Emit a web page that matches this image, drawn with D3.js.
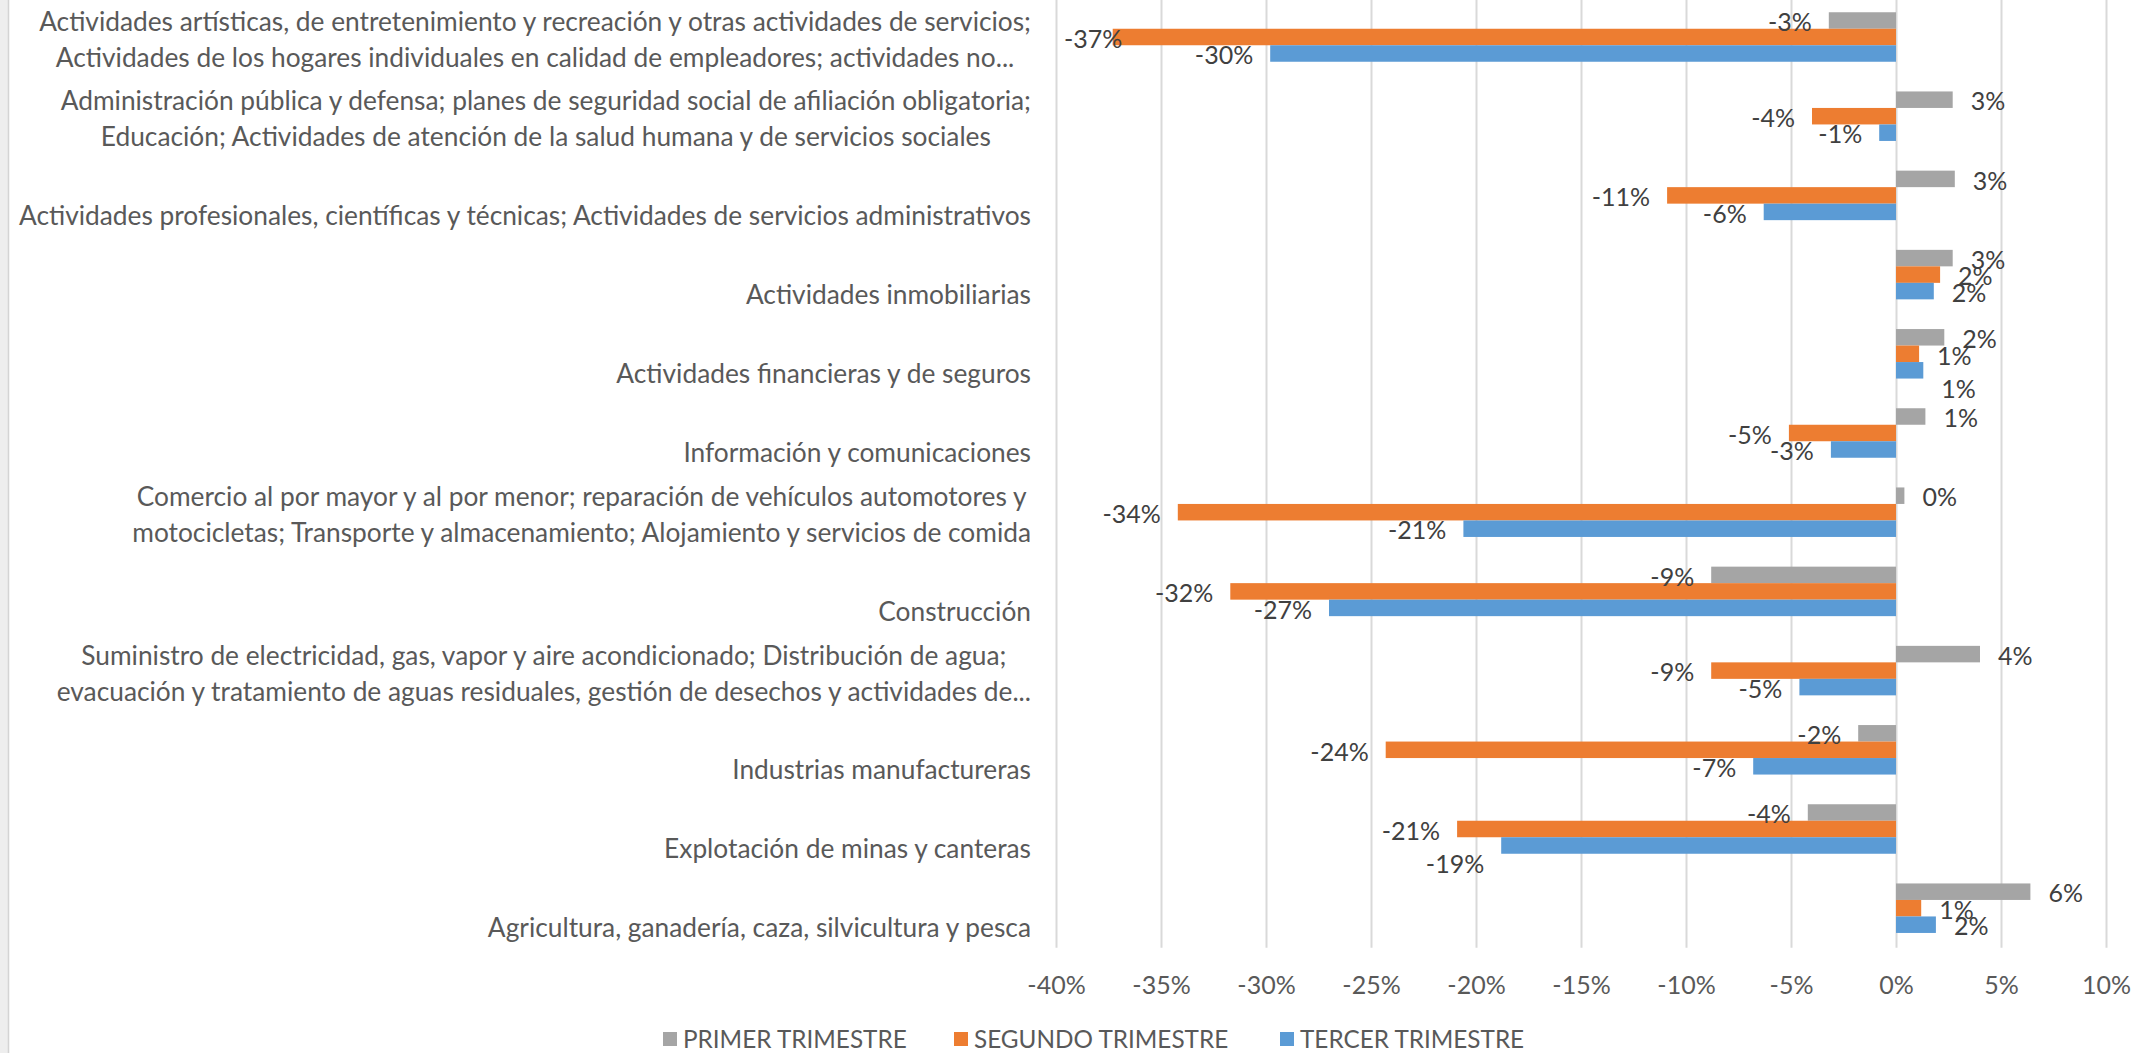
<!DOCTYPE html>
<html>
<head>
<meta charset="utf-8">
<script src="https://cdn.jsdelivr.net/npm/d3@7"></script>
<style>
  body { margin: 0; background: #fff; }
  svg text { font-family: Lato, "Open Sans", sans-serif; }
</style>
</head>
<body>
<svg id="chart" width="2147" height="1053"></svg>
<script>
// categories from top to bottom, each one split in the lines it is shown with
var categories = [
  ["Actividades artísticas, de entretenimiento y recreación y otras actividades de servicios;",
   "Actividades de los hogares individuales en calidad de empleadores; actividades no..."],
  ["Administración pública y defensa; planes de seguridad social de afiliación obligatoria;",
   "Educación; Actividades de atención de la salud humana y de servicios sociales"],
  ["Actividades profesionales, científicas y técnicas; Actividades de servicios administrativos"],
  ["Actividades inmobiliarias"],
  ["Actividades financieras y de seguros"],
  ["Información y comunicaciones"],
  ["Comercio al por mayor y al por menor; reparación de vehículos automotores y",
   "motocicletas; Transporte y almacenamiento; Alojamiento y servicios de comida"],
  ["Construcción"],
  ["Suministro de electricidad, gas, vapor y aire acondicionado; Distribución de agua;",
   "evacuación y tratamiento de aguas residuales, gestión de desechos y actividades de..."],
  ["Industrias manufactureras"],
  ["Explotación de minas y canteras"],
  ["Agricultura, ganadería, caza, silvicultura y pesca"]
];

var seriesNames = ["PRIMER TRIMESTRE", "SEGUNDO TRIMESTRE", "TERCER TRIMESTRE"];
var seriesColors = ["#a5a5a5", "#ed7d31", "#5b9bd5"];

// variation in %, same order as categories
var primer  = [-3.2, 2.7, 2.8, 2.7, 2.3, 1.4, 0.4, -8.8, 4.0, -1.8, -4.2, 6.4];
var segundo = [-37.3, -4.0, -10.9, 2.1, 1.1, -5.1, -34.2, -31.7, -8.8, -24.3, -20.9, 1.2];
var tercero = [-29.8, -0.8, -6.3, 1.8, 1.3, -3.1, -20.6, -27.0, -4.6, -6.8, -18.8, 1.9];

var tickValues = [-40, -35, -30, -25, -20, -15, -10, -5, 0, 5, 10];

var allSeries = [primer, segundo, tercero];

// labels that excel pushed down to keep them apart ("category-series")
var labelNudge = { "4-2": 17, "10-2": 17 };

var svg = d3.select("#chart");
var plot = { left: 1056, right: 2106, top: -2.6, bottom: 947.8 };

// light strip on the far left, like the sheet behind the chart
svg.append("rect").attr("x", 0).attr("y", 0).attr("width", 8).attr("height", 1053).attr("fill", "#eeeeee");
svg.append("line").attr("x1", 8.5).attr("x2", 8.5).attr("y1", 0).attr("y2", 1053)
  .style("stroke", "#d4d4d4").style("stroke-width", 1.5);

var x = d3.scaleLinear().domain([-40, 10]).range([plot.left, plot.right]);
var y = d3.scaleBand()
  .domain(d3.range(categories.length))
  .range([plot.top, plot.bottom])
  .paddingInner(0.375)
  .paddingOuter(0.1875);
var ySub = d3.scaleBand().domain(d3.range(seriesNames.length)).range([0, y.bandwidth()]);

// gridlines
var grid = svg.append("g")
  .attr("transform", "translate(0," + plot.bottom + ")")
  .call(d3.axisBottom(x).tickValues(tickValues).tickSize(-(plot.bottom - plot.top)).tickFormat(""));
grid.select(".domain").remove();
grid.selectAll("line").style("stroke", "#d9d9d9").style("stroke-width", 2);

// tick labels
var axis = svg.append("g")
  .attr("transform", "translate(0,973)")
  .call(d3.axisBottom(x).tickValues(tickValues).tickSize(0).tickFormat(function (d) { return d + "%"; }));
axis.select(".domain").remove();
axis.selectAll("text").style("font-size", "25px").style("fill", "#595959")
  .style("font-family", "Lato, sans-serif");

// bars
var rows = categories.map(function (c, i) {
  return { i: i, values: allSeries.map(function (s, k) { return { k: k, v: s[i], i: i }; }) };
});

var groups = svg.selectAll(".cat")
  .data(rows)
  .enter()
  .append("g")
  .attr("class", "cat")
  .attr("transform", function (d) { return "translate(0," + y(d.i) + ")"; });

groups.selectAll("rect")
  .data(function (d) { return d.values; })
  .enter()
  .append("rect")
  .attr("x", function (d) { return Math.min(x(0), x(d.v)); })
  .attr("y", function (d) { return ySub(d.k); })
  .attr("width", function (d) { return Math.abs(x(d.v) - x(0)); })
  .attr("height", ySub.bandwidth())
  .attr("fill", function (d) { return seriesColors[d.k]; });

// data labels (outside end)
groups.selectAll(".lbl")
  .data(function (d) { return d.values; })
  .enter()
  .append("text")
  .attr("class", "lbl")
  .text(function (d) { return Math.round(d.v) + "%"; })
  .style("font-size", "25px")
  .style("fill", "#404040")
  .attr("y", function (d) {
    var nudge = labelNudge[d.i + "-" + d.k] || 0;
    return ySub(d.k) + ySub.bandwidth() / 2 + 2 + nudge;
  })
  .attr("dy", "0.35em")
  .each(function (d) {
    var el = d3.select(this);
    var w = this.getComputedTextLength();
    var xs;
    if (d.v < 0) {
      xs = x(d.v) - 17 - w;
      if (xs < plot.left + 8) xs = plot.left + 8;
    } else {
      xs = x(d.v) + 18;
    }
    el.attr("x", xs);
  });

// category labels, lines centred on each other, block right aligned
var labelRight = 1031;
var lineGap = 36;
groups.each(function (d) {
  var g = d3.select(this);
  var lines = categories[d.i];
  var mid = y.bandwidth() / 2 + 3;
  var texts = lines.map(function (line, j) {
    var ly = lines.length === 1 ? mid + lineGap / 2 - 1 : mid + (j - 0.5) * lineGap;
    return g.append("text")
      .text(line)
      .attr("y", ly)
      .attr("dy", "0.35em")
      .attr("text-anchor", "middle")
      .style("font-size", "26.3px")
      .style("fill", "#595959");
  });
  var maxW = d3.max(texts, function (t) { return t.node().getComputedTextLength(); });
  texts.forEach(function (t) { t.attr("x", labelRight - maxW / 2); });
});

// legend
var legendX = [663, 954, 1280];
var legend = svg.selectAll(".leg")
  .data(seriesNames)
  .enter()
  .append("g")
  .attr("class", "leg")
  .attr("transform", function (d, i) { return "translate(" + legendX[i] + ",1039)"; });
legend.append("rect")
  .attr("x", 0).attr("y", -7).attr("width", 14).attr("height", 14)
  .attr("fill", function (d, i) { return seriesColors[i]; });
legend.append("text")
  .attr("x", 20).attr("dy", "0.35em")
  .text(function (d) { return d; })
  .style("font-size", "24.3px")
  .style("fill", "#595959");
</script>
</body>
</html>
